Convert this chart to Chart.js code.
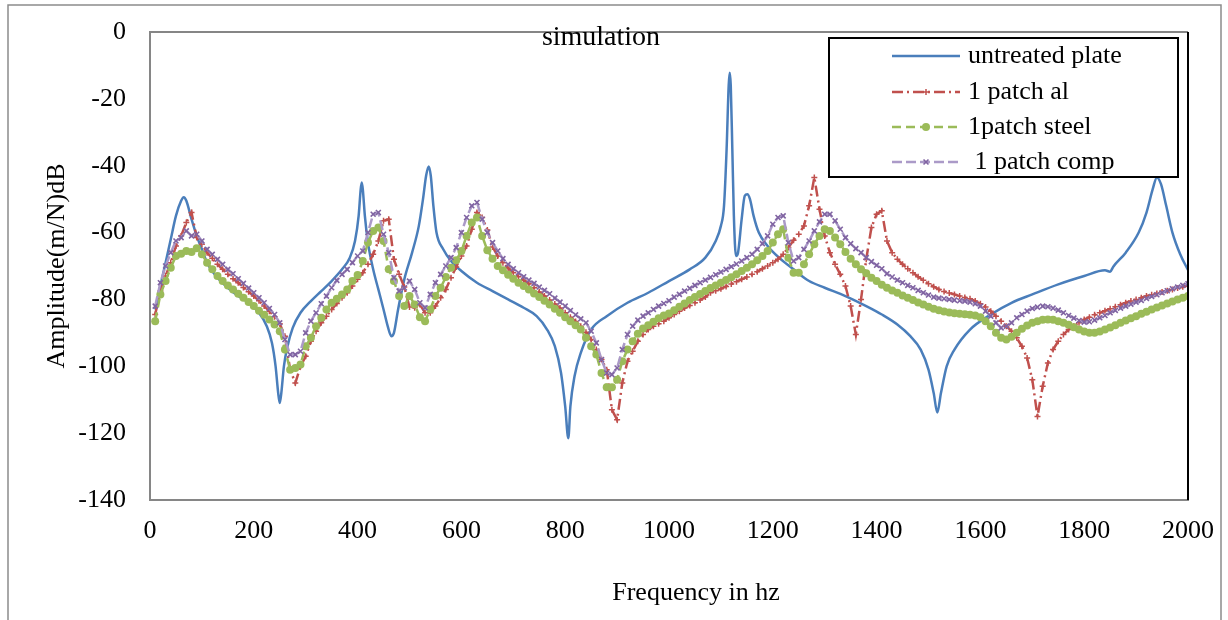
<!DOCTYPE html>
<html>
<head>
<meta charset="utf-8">
<script src="https://cdn.jsdelivr.net/npm/chart.js@4.4.0/dist/chart.umd.min.js"></script>
<style>
  html, body { margin: 0; padding: 0; background: #fff; }
  canvas { display: block; }
</style>
</head>
<body>
<canvas id="plot" width="1228" height="620"></canvas>
<script>
// texts
const chartTitle = 'simulation';
const xTitle = 'Frequency in hz';
const yTitle = 'Amplitude(m/N)dB';
const seriesNames = ['untreated plate', '1 patch al', '1patch steel', ' 1 patch comp'];
const xTicks = [0, 200, 400, 600, 800, 1000, 1200, 1400, 1600, 1800, 2000];
const yTicks = [0, -20, -40, -60, -80, -100, -120, -140];

// untreated plate (no markers, uneven sampling around the peaks)
const plateFreq = [10, 20, 30, 40, 50, 60, 65, 70, 80, 90, 100, 110, 130, 150, 170, 190, 210, 225, 235, 242,
  247, 250, 253, 258, 265, 275, 290, 310, 330, 350, 370, 385, 395, 402, 406, 408, 410, 414, 420, 430,
  440, 450, 458, 465, 470, 478, 490, 505, 518, 526, 532, 537, 541, 546, 552, 565, 580, 600, 630, 660,
  690, 720, 745, 765, 780, 792, 800, 806, 810, 818, 830, 850, 880, 920, 960, 1000, 1040, 1070, 1090, 1100,
  1106, 1111, 1115, 1117, 1119, 1122, 1125, 1129, 1133, 1140, 1146, 1151, 1156, 1163, 1173, 1190, 1212, 1240, 1270, 1300,
  1340, 1380, 1410, 1440, 1465, 1485, 1500, 1510, 1517, 1524, 1535, 1550, 1580, 1620, 1660, 1700, 1750, 1800, 1840, 1850,
  1856, 1880, 1905, 1920, 1932, 1940, 1948, 1958, 1970, 1985, 2000];
const plateAmp = [-83, -76, -69, -62, -55, -50.5, -49.4, -50.5, -56, -61, -65, -69, -73.5, -76.5, -79, -81, -84, -88, -93, -100,
  -108, -111, -108, -100, -94, -88.5, -84, -80.5, -77.5, -74.5, -71, -67.5, -62.5, -55, -47, -45, -47, -55, -63, -71,
  -77, -83, -88, -91, -90, -83, -74, -66, -58, -50, -43, -40.2, -43, -52, -60, -65, -68.5, -71.5, -75, -77.5,
  -80, -82.5, -85, -89, -94, -102, -112, -121.5, -112, -103, -96, -89, -85, -81, -78, -74.5, -71, -67.5, -62.5, -58,
  -52, -35, -16, -12.2, -16, -35, -55, -67, -66, -56, -49, -48.5, -50, -55, -60, -64, -67.5, -71, -74.5, -76.5,
  -79, -82, -84.5, -87.5, -91, -95, -101, -108, -113.8, -108, -100, -95, -89, -84.5, -81, -78.5, -75.5, -73, -71.3, -71.7,
  -70.2, -66, -60, -54, -47, -43.5, -45.5, -52, -60, -66.5, -71.2];

// patched plates, sampled every 10 Hz
const patchFreq = [
  10, 20, 30, 40, 50, 60, 70, 80, 90, 100, 110, 120, 130, 140, 150, 160, 170, 180, 190, 200,
  210, 220, 230, 240, 250, 260, 270, 280, 290, 300, 310, 320, 330, 340, 350, 360, 370, 380, 390, 400,
  410, 420, 430, 440, 450, 460, 470, 480, 490, 500, 510, 520, 530, 540, 550, 560, 570, 580, 590, 600,
  610, 620, 630, 640, 650, 660, 670, 680, 690, 700, 710, 720, 730, 740, 750, 760, 770, 780, 790, 800,
  810, 820, 830, 840, 850, 860, 870, 880, 890, 900, 910, 920, 930, 940, 950, 960, 970, 980, 990, 1000,
  1010, 1020, 1030, 1040, 1050, 1060, 1070, 1080, 1090, 1100, 1110, 1120, 1130, 1140, 1150, 1160, 1170, 1180, 1190, 1200,
  1210, 1220, 1230, 1240, 1250, 1260, 1270, 1280, 1290, 1300, 1310, 1320, 1330, 1340, 1350, 1360, 1370, 1380, 1390, 1400,
  1410, 1420, 1430, 1440, 1450, 1460, 1470, 1480, 1490, 1500, 1510, 1520, 1530, 1540, 1550, 1560, 1570, 1580, 1590, 1600,
  1610, 1620, 1630, 1640, 1650, 1660, 1670, 1680, 1690, 1700, 1710, 1720, 1730, 1740, 1750, 1760, 1770, 1780, 1790, 1800,
  1810, 1820, 1830, 1840, 1850, 1860, 1870, 1880, 1890, 1900, 1910, 1920, 1930, 1940, 1950, 1960, 1970, 1980, 1990, 2000];

const alAmp = [
  -84.5, -77.5, -73, -69, -64, -61, -57, -54, -61.5, -63.5,
  -66, -67.7, -69.5, -71, -72.5, -73.8, -75, -76.4, -77.7, -79,
  -80.4, -82, -83.5, -85.2, -87.3, -91, -101, -105, -100, -97,
  -92.5, -89.5, -87, -85, -83, -81.2, -79.5, -78, -76, -74,
  -72, -69.5, -66.5, -62.5, -56.5, -56, -68, -72.5, -76.3, -82.3,
  -82.5, -81.5, -84, -84, -82, -79.5, -77, -73.5, -70.3, -67,
  -64, -59, -54, -55.5, -59.2, -64.3, -67, -69, -70.6, -72,
  -73.2, -74.3, -75.3, -76.5, -77.8, -79, -80.2, -81.4, -82.6, -84,
  -85.3, -86.6, -88, -89.8, -92, -95, -98, -101, -113, -116,
  -105, -98.5, -95.5, -92.5, -90.5, -89, -88, -87.3, -86.5, -85.5,
  -84.5, -83.5, -82.6, -81.8, -81, -80.2, -79.3, -78, -77.4, -76.8,
  -76.1, -75.4, -74.7, -74, -73.3, -72.5, -71.7, -70.8, -70, -69,
  -68, -66.5, -64.5, -62.3, -60.5, -58, -52, -43.5, -53, -61,
  -66, -69.5, -72.5, -76, -82, -90.5, -80, -68, -58.5, -54.5,
  -53.5, -62.5, -66, -68, -69.5, -70.8, -72, -73.2, -74.3, -75.3,
  -76.2, -77, -77.6, -78.1, -78.5, -79, -79.4, -79.8, -80.5, -81.3,
  -82.3, -83.5, -85, -86.5, -88, -89.5, -91.5, -94, -97.5, -104,
  -115, -106, -99, -95, -92.5, -90.5, -89, -88, -87, -86,
  -85.3, -84.6, -84, -83.4, -82.8, -82.2, -81.6, -81, -80.5, -80,
  -79.5, -79, -78.6, -78.2, -77.8, -77.4, -77, -76.6, -76.2, -75.8];

const steelAmp = [
  -86.5, -78.5, -74.5, -70.5, -67, -66.3, -65.5, -65.8, -64.7, -66.5,
  -69, -71, -73, -74.5, -75.8, -77, -78.3, -79.5, -80.8, -82,
  -83.4, -84.6, -86, -87.5, -89.5, -95, -101, -100.5, -99.5, -94,
  -91.5, -88, -85.5, -83, -81, -79.8, -78.5, -77, -74.5, -72.7,
  -68.5, -63, -59.5, -58.5, -62.5, -71, -74.5, -79, -82, -79,
  -81.5, -85.3, -86.5, -83, -79, -76.5, -73.3, -70.5, -68.3, -65.5,
  -61, -57, -55.5, -61, -65.3, -67.8, -70, -71.3, -72.6, -73.8,
  -75, -76, -77, -78.2, -79.3, -80.4, -81.5, -82.8, -84, -85.3,
  -86.5, -87.7, -89, -91.5, -94, -96.5, -102, -106.3, -106.3, -104,
  -98.5, -95, -92.5, -90.3, -88.7, -87.7, -86.7, -85.6, -84.8, -84.2,
  -83.2, -82.2, -81.2, -80.2, -79.3, -78.4, -77.5, -76.6, -75.8, -75,
  -74.2, -73.4, -72.5, -71.5, -70.5, -69.5, -68.3, -67, -65.5, -63,
  -60.5, -59, -67.5, -72, -72, -69.5, -66.5, -63.5, -61, -59,
  -59.5, -61.5, -63.5, -65.8, -67.8, -69.5, -71, -72.2, -73.5, -74.5,
  -75.6, -76.5, -77.3, -78, -78.8, -79.5, -80.2, -80.9, -81.5, -82.2,
  -82.8, -83.2, -83.6, -83.9, -84.1, -84.3, -84.4, -84.6, -84.8, -85.3,
  -86.5, -88, -90, -91.5, -92, -91.2, -90, -88.8, -87.8, -87,
  -86.5, -86.1, -86, -86.1, -86.5, -87, -87.6, -88.3, -89, -89.6,
  -90, -90, -89.6, -89, -88.4, -87.7, -87, -86.3, -85.6, -85,
  -84.3, -83.7, -83, -82.4, -81.8, -81.2, -80.6, -80, -79.5, -79];

const compAmp = [
  -82, -75, -70, -66, -62.5, -61.5, -59.5, -61, -60.5, -62.5,
  -65, -66.5, -68, -69.5, -71, -72.3, -73.8, -75.2, -76.6, -78,
  -79.5, -81, -82.7, -84.5, -87, -92, -96.5, -96.5, -95.5, -90,
  -86.5, -84, -81.3, -79, -76.5, -74.3, -72.5, -71, -69, -67,
  -65.5, -60, -54.5, -54, -60.5, -66, -73.5, -77.5, -76.5, -74.5,
  -77, -81, -82.5, -78.5, -75, -72.5, -70, -67.5, -64.5, -60,
  -55.5, -52, -51, -56, -60, -63, -65.5, -67.8, -69.5, -70.8,
  -72, -73.2, -74.2, -75.2, -76.3, -77.3, -78.3, -79.6, -80.8, -82,
  -83.3, -84.6, -85.8, -87, -89.5, -93, -98, -102, -102.5, -100.5,
  -95, -90.5, -88, -86.2, -85, -84, -83, -82, -81.2, -80.4,
  -79.3, -78.5, -77.5, -76.7, -75.8, -75, -74.2, -73.4, -72.6, -71.8,
  -71, -70.2, -69.4, -68.5, -67.5, -66.5, -65, -63.3, -61, -57.5,
  -55.5, -55, -63, -68.5, -67.5, -65, -62.5, -59.5, -56.8, -54.5,
  -54.5, -56.5, -59, -61.5, -63.3, -64.8, -66, -67.5, -68.7, -69.8,
  -70.8, -72.3, -73.3, -74.2, -75, -75.8, -76.5, -77.3, -78, -78.7,
  -79.3, -79.6, -79.8, -80, -80.2, -80.4, -80.5, -80.8, -81.3, -82,
  -83.5, -85, -87, -88.5, -88, -87, -85.5, -84.5, -83.5, -82.7,
  -82.3, -82, -82.2, -82.6, -83.2, -84, -84.8, -85.6, -86.3, -86.8,
  -86.7, -86.2, -85.5, -84.8, -84, -83.3, -82.6, -82, -81.4, -80.8,
  -80.3, -79.7, -79.1, -78.6, -78, -77.4, -76.8, -76.3, -75.8, -75.3];

const pairs = (xs, ys) => xs.map((x, i) => ({ x: x, y: ys[i] }));

const SERIF = '"Liberation Serif", "Times New Roman", serif';
Chart.defaults.font.family = SERIF;
Chart.defaults.font.size = 26;
Chart.defaults.color = '#000';

// frames, titles and the boxed legend inside the plot
const decor = {
  id: 'decor',
  afterDraw(chart) {
    const ctx = chart.ctx;
    const a = chart.chartArea;
    ctx.save();
    ctx.strokeStyle = '#8c8c8c';
    ctx.lineWidth = 1.5;
    ctx.beginPath();
    ctx.moveTo(8, 620); ctx.lineTo(8, 5); ctx.lineTo(1221, 5); ctx.lineTo(1221, 620);
    ctx.stroke();

    ctx.strokeStyle = '#868686';
    ctx.lineWidth = 2;
    ctx.beginPath();
    ctx.moveTo(a.left - 1, a.top); ctx.lineTo(a.right, a.top);
    ctx.stroke();
    ctx.strokeStyle = '#000';
    ctx.beginPath();
    ctx.moveTo(a.right, a.top); ctx.lineTo(a.right, a.bottom);
    ctx.stroke();

    ctx.fillStyle = '#000';
    ctx.textAlign = 'center';
    ctx.textBaseline = 'middle';
    ctx.font = '28px ' + SERIF;
    ctx.fillText(chartTitle, 601, 38);
    ctx.font = '26px ' + SERIF;
    ctx.fillText(xTitle, 696, 593);
    ctx.save();
    ctx.translate(57, 266);
    ctx.rotate(-Math.PI / 2);
    ctx.fillText(yTitle, 0, 0);
    ctx.restore();

    // legend
    const box = { x: 829, y: 38, w: 349, h: 139 };
    ctx.fillStyle = '#fff';
    ctx.fillRect(box.x, box.y, box.w, box.h);
    ctx.strokeStyle = '#000';
    ctx.lineWidth = 2;
    ctx.strokeRect(box.x, box.y, box.w, box.h);
    const rows = [56, 92, 127, 162];
    chart.data.datasets.forEach((ds, i) => {
      const y = rows[i];
      ctx.setLineDash(ds.borderDash || []);
      ctx.strokeStyle = ds.borderColor;
      ctx.lineWidth = ds.borderWidth;
      ctx.beginPath();
      ctx.moveTo(892, y); ctx.lineTo(960, y);
      ctx.stroke();
      ctx.setLineDash([]);
      if (ds.pointRadius > 0 && Chart.helpers && Chart.helpers.drawPoint) {
        ctx.fillStyle = ds.pointBackgroundColor;
        ctx.strokeStyle = ds.pointBorderColor;
        ctx.lineWidth = ds.pointBorderWidth;
        Chart.helpers.drawPoint(ctx, { pointStyle: ds.pointStyle, radius: ds.pointRadius, borderWidth: ds.pointBorderWidth, rotation: 0 }, 926, y);
      }
      ctx.fillStyle = '#000';
      ctx.textAlign = 'left';
      ctx.font = '26px ' + SERIF;
      ctx.fillText(ds.label, 968, y);
    });
    ctx.restore();
  }
};

new Chart(document.getElementById('plot'), {
  type: 'line',
  data: {
    datasets: [
      {
        label: seriesNames[0],
        data: pairs(plateFreq, plateAmp),
        borderColor: '#4a7ebb',
        borderWidth: 2.5,
        pointRadius: 0,
        cubicInterpolationMode: 'monotone',
        order: 4
      },
      {
        label: seriesNames[1],
        data: pairs(patchFreq, alAmp),
        borderColor: '#c0504d',
        borderWidth: 2.5,
        borderDash: [11, 4, 2, 4],
        tension: 0,
        pointStyle: 'cross',
        pointRadius: 3,
        pointBorderWidth: 1.5,
        pointBorderColor: '#c0504d',
        pointBackgroundColor: '#c0504d',
        order: 3
      },
      {
        label: seriesNames[2],
        data: pairs(patchFreq, steelAmp),
        borderColor: '#9bbb59',
        borderWidth: 2.5,
        borderDash: [9, 5],
        tension: 0,
        pointStyle: 'circle',
        pointRadius: 4,
        pointBorderWidth: 0,
        pointBorderColor: '#9bbb59',
        pointBackgroundColor: '#9bbb59',
        order: 2
      },
      {
        label: seriesNames[3],
        data: pairs(patchFreq, compAmp),
        borderColor: '#ab9ac8',
        borderWidth: 2.5,
        borderDash: [10, 4],
        tension: 0,
        pointStyle: 'crossRot',
        pointRadius: 3.5,
        pointBorderWidth: 1.6,
        pointBorderColor: '#8064a2',
        pointBackgroundColor: '#8064a2',
        order: 1
      }
    ]
  },
  options: {
    responsive: false,
    animation: false,
    devicePixelRatio: 1,
    layout: { autoPadding: false, padding: { left: 0, top: 32, right: 40, bottom: 0 } },
    plugins: { legend: { display: false }, tooltip: { enabled: false }, title: { display: false } },
    scales: {
      x: {
        type: 'linear',
        min: 0,
        max: 2000,
        afterBuildTicks: s => { s.ticks = xTicks.map(v => ({ value: v })); },
        afterFit: s => { s.height = 120; s.paddingLeft = 0; s.paddingRight = 0; },
        grid: { display: false, drawTicks: false },
        border: { display: true, color: '#868686', width: 2 },
        ticks: { padding: 16, maxRotation: 0, autoSkip: false, callback: v => String(v), font: { size: 26 } }
      },
      y: {
        min: -140,
        max: 0,
        afterBuildTicks: s => { s.ticks = yTicks.map(v => ({ value: v })); },
        afterFit: s => { s.width = 150; s.paddingTop = 0; s.paddingBottom = 0; },
        grid: { display: false, drawTicks: false },
        border: { display: true, color: '#868686', width: 2 },
        ticks: { padding: 24, autoSkip: false, callback: v => String(v), font: { size: 26 } }
      }
    }
  },
  plugins: [decor]
});
</script>
</body>
</html>
